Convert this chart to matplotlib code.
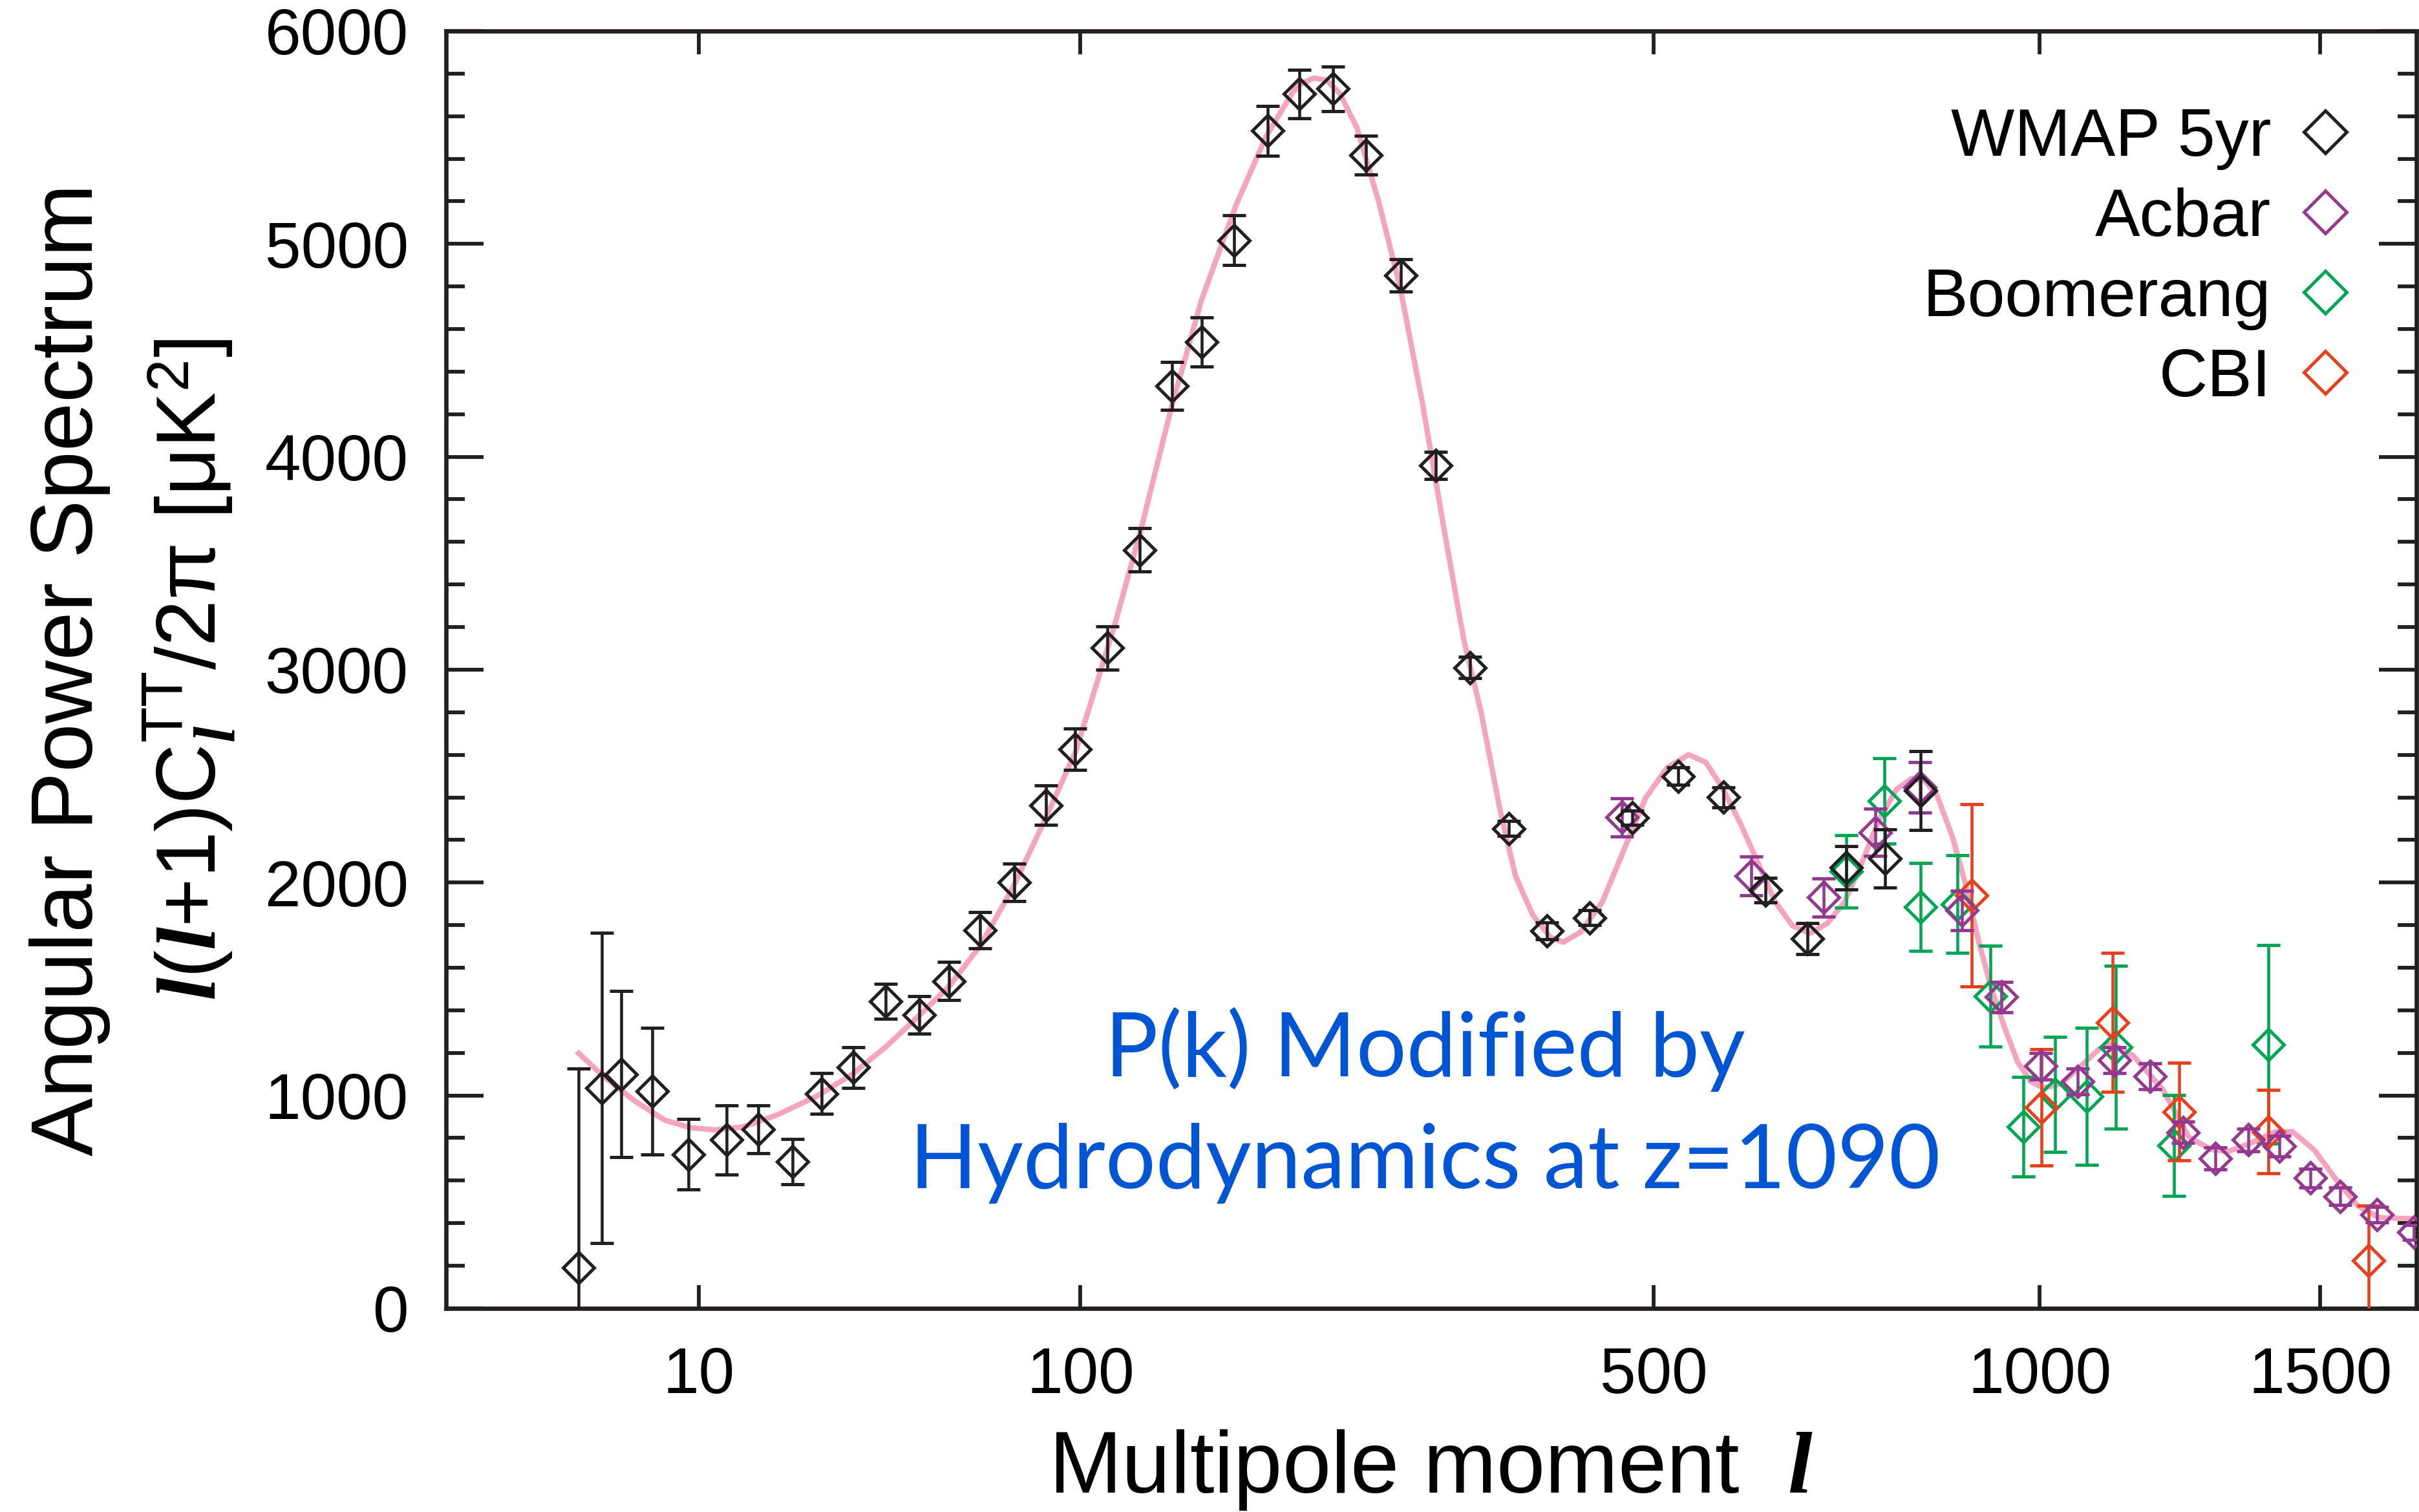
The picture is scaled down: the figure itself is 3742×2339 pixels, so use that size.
import numpy as np
import matplotlib
matplotlib.use('Agg')
from matplotlib import pyplot as plt
from matplotlib.ticker import MultipleLocator, NullLocator

# WMAP 5yr binned band powers
wmap_l = [2, 3, 4, 6, 9, 13, 17, 22, 27, 33, 40, 48, 56, 65, 76, 87, 98, 111, 125, 140,
          155, 172, 191, 210, 231, 253, 278, 304, 331, 363, 397, 436, 478, 526, 575, 624,
          675, 724, 775, 824]
wmap_d = [190, 1035, 1100, 1020, 724, 791, 840, 690, 1009, 1131, 1442, 1377, 1537, 1777,
          2001, 2363, 2625, 3102, 3563, 4332, 4539, 5017, 5531, 5704, 5729, 5417, 4852,
          3960, 3010, 2253, 1773, 1834, 2304, 2499, 2401, 1964, 1737, 2070, 2113, 2432]
wmap_e = [936, 728, 390, 298, 165, 163, 112, 106, 96, 96, 83, 88, 89, 85, 87, 92, 97, 101,
          103, 112, 116, 116, 116, 114, 105, 90, 76, 63, 50, 35, 39, 35, 33, 41, 47, 58,
          73, 102, 136, 185]

# Acbar
acbar_l = [468, 607, 695, 762, 823, 883, 941, 1002, 1061, 1122, 1183, 1240, 1299, 1360,
           1420, 1481, 1541, 1616, 1695]
acbar_d = [2306, 2031, 1930, 2235, 2448, 1869, 1462, 1137, 1066, 1167, 1090, 827, 705, 791,
           762, 612, 526, 440, 358]
acbar_e = [91, 91, 90, 111, 118, 92, 71, 61, 61, 61, 61, 51, 52, 53, 50, 45, 41, 37, 35]

# Boomerang
boom_l = [724, 774, 824, 876, 925, 975, 1025, 1076, 1124, 1224, 1399]
boom_d = [2052, 2383, 1885, 1899, 1466, 852, 1005, 995, 1226, 765, 1240]
boom_e = [170, 200, 206, 228, 236, 234, 271, 322, 382, 237, 467]

# CBI
cbi_l = [897, 1003, 1119, 1234, 1399, 1599]
cbi_d = [1940, 944, 1343, 924, 830, 225]
cbi_e = [429, 272, 327, 230, 196, 258]

# best-fit model curve
model_l = [2, 3, 4.8, 7, 9.3, 11.7, 15, 19.7, 26, 32.6, 40, 47.8, 56, 65.2, 75.6, 87, 98.3,
           108, 114, 125.5, 139.6, 154.6, 172.9, 190, 205.4, 210, 218.8, 227, 235.5, 247,
           262, 277.5, 293.5, 310, 326, 340, 356, 369, 384, 399.7, 411.6, 427.7, 448.5,
           469.7, 491.6, 514, 537, 556, 575, 595, 615, 635.5, 656, 677.7, 699.5, 721.6,
           744, 767, 790.5, 811.4, 829.3, 847, 869, 888, 907, 926, 946, 966, 986, 1006,
           1034, 1062, 1096, 1117, 1153, 1205, 1251, 1290, 1322, 1362, 1412, 1446, 1489,
           1532, 1576, 1621, 1700]
model_d = [1198, 1096, 975, 883, 848, 838, 852, 909, 995, 1096, 1228, 1371, 1513, 1706,
           1980, 2306, 2621, 2990, 3208, 3655, 4224, 4732, 5179, 5505, 5708, 5749, 5779,
           5769, 5708, 5546, 5200, 4793, 4265, 3675, 3140, 2800, 2336, 2031, 1848, 1743,
           1720, 1767, 1909, 2153, 2397, 2540, 2601, 2564, 2438, 2275, 2092, 1909, 1798,
           1761, 1808, 1909, 2092, 2296, 2438, 2489, 2479, 2408, 2214, 1991, 1726, 1503,
           1320, 1157, 1066, 1035, 1055, 1127, 1218, 1244, 1188, 1027, 804, 748, 736, 773,
           829, 829, 742, 606, 482, 426, 420]

xticks = [10, 100, 500, 1000, 1500]
labels = ['WMAP 5yr', 'Acbar', 'Boomerang', 'CBI']

plt.rcParams['font.family'] = ['Liberation Sans', 'DejaVu Sans']
plt.rcParams['mathtext.fontset'] = 'custom'
plt.rcParams['mathtext.rm'] = 'Liberation Sans'
plt.rcParams['mathtext.it'] = 'Liberation Serif:italic:bold'
plt.rcParams['mathtext.bf'] = 'Liberation Sans:bold'

fig = plt.figure(figsize=(3742 / 300, 2339 / 300), dpi=300)
ax = fig.add_axes([0.1844, 0.1347, 0.8145, 0.8448])


def fwd(x):
    x = np.asarray(x, dtype=float)
    return np.sign(x) * np.abs(x) ** 0.4


def inv(u):
    u = np.asarray(u, dtype=float)
    return np.sign(u) * np.abs(u) ** 2.5


ax.set_xscale('function', functions=(fwd, inv))

ax.plot(model_l, model_d, color='#f4a3c1', lw=2.0, zorder=1)

style = dict(fmt='D', mfc='none', ms=8, mew=1.2, elinewidth=1.1, capsize=4.4, capthick=1.1)
c_boom = ax.errorbar(boom_l, boom_d, yerr=boom_e, color='#00a651', zorder=3, **style)
c_cbi = ax.errorbar(cbi_l, cbi_d, yerr=cbi_e, color='#e8401c', zorder=4, **style)
c_acbar = ax.errorbar(acbar_l, acbar_d, yerr=acbar_e, color='#933a90', zorder=5, **style)
c_wmap = ax.errorbar(wmap_l, wmap_d, yerr=wmap_e, color='#231f20', zorder=6, **style)

ax.set_xlim(0, 1700)
ax.set_ylim(0, 6000)

ax.set_xticks(xticks)
ax.set_xticklabels([str(t) for t in xticks])
ax.xaxis.set_minor_locator(NullLocator())
ax.set_yticks(range(0, 6001, 1000))
ax.yaxis.set_minor_locator(MultipleLocator(200))

ax.tick_params(axis='x', which='major', direction='in', length=8.7, width=1.4,
               top=True, labelsize=24, pad=14, color='#231f20')
ax.tick_params(axis='y', which='major', direction='in', length=14, width=1.4,
               right=True, labelsize=24, pad=14, color='#231f20')
ax.tick_params(axis='y', which='minor', direction='in', length=7, width=1.4,
               right=True, color='#231f20')
for s in ax.spines.values():
    s.set_linewidth(1.6)
    s.set_color('#231f20')

ax.set_xlabel(r'Multipole moment  $\mathit{l}$', fontsize=32.5)
ax.xaxis.set_label_coords(0.5, -0.1445)
ax.xaxis.label.set_va('baseline')

ax.text(-0.191, 0.5, 'Angular Power Spectrum', rotation=90, transform=ax.transAxes,
        ha='center', va='center', fontsize=32.5)
ax.text(-0.130, 0.5,
        r'$\mathit{l}$($\mathit{l}$+1)C$_{\mathit{l}}^{\mathrm{TT}}$/2$\mathrm{\pi}$ [$\mathrm{\mu}$K$^2$]',
        rotation=90, transform=ax.transAxes, ha='center', va='center', fontsize=31)

ax.text(0.4967, 0.1817, 'P(k) Modified by', transform=ax.transAxes, ha='center',
        va='baseline', fontsize=33, color='#0055d4', family='Lato')
ax.text(0.4967, 0.0941, 'Hydrodynamics at z=1090', transform=ax.transAxes, ha='center',
        va='baseline', fontsize=33, color='#0055d4', family='Lato')

handles = [c[0] for c in (c_wmap, c_acbar, c_boom, c_cbi)]
ax.legend(handles, labels, loc='upper right', bbox_to_anchor=(1.0062, 1.0),
          markerfirst=False, frameon=False,
          fontsize=25, markerscale=1.42, handlelength=0.8, handletextpad=0.41,
          labelspacing=0.26, borderpad=0.4, borderaxespad=0.73, numpoints=1)

fig.savefig('out.png', dpi=300)
